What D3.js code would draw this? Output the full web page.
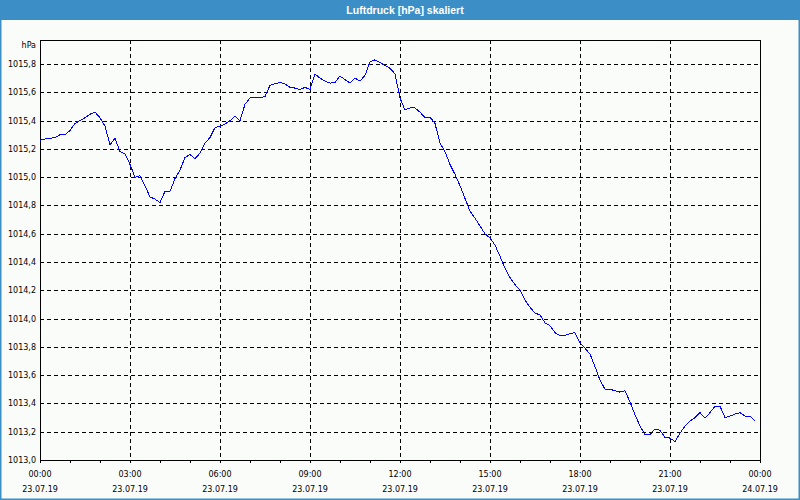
<!DOCTYPE html>
<html>
<head>
<meta charset="utf-8">
<script src="https://cdn.jsdelivr.net/npm/d3@7"></script>
<style>
  html, body { margin: 0; padding: 0; background: #fafcfa; }
  svg { display: block; }
</style>
</head>
<body>
<script>
// ---- data ----
const chartTitle = "Luftdruck [hPa] skaliert";
const unitLabel = "hPa";
const startTime = new Date(2019, 6, 23, 0, 0);
const stepMinutes = 10;
const pressure = [
  1015.26, 1015.27, 1015.275, 1015.28, 1015.30, 1015.30, 1015.33, 1015.38, 1015.40, 1015.42,
  1015.445, 1015.46, 1015.42, 1015.36, 1015.23, 1015.275, 1015.18, 1015.165, 1015.09, 1015.00,
  1015.01, 1014.94, 1014.86, 1014.845, 1014.82, 1014.90, 1014.90, 1014.99, 1015.05, 1015.14,
  1015.16, 1015.13, 1015.17, 1015.24, 1015.28, 1015.35, 1015.36, 1015.375, 1015.40, 1015.43,
  1015.40, 1015.515, 1015.56, 1015.565, 1015.56, 1015.57, 1015.65, 1015.66, 1015.67, 1015.66,
  1015.635, 1015.63, 1015.62, 1015.635, 1015.62, 1015.73, 1015.70, 1015.68, 1015.665, 1015.67,
  1015.715, 1015.69, 1015.665, 1015.70, 1015.68, 1015.72, 1015.815, 1015.83, 1015.81, 1015.79,
  1015.77, 1015.73, 1015.56, 1015.475, 1015.49, 1015.49, 1015.46, 1015.42, 1015.425, 1015.38,
  1015.24, 1015.18, 1015.09, 1015.02, 1014.94, 1014.85, 1014.76, 1014.71, 1014.655, 1014.60,
  1014.57, 1014.52, 1014.44, 1014.355, 1014.29, 1014.24, 1014.20, 1014.13, 1014.08, 1014.04,
  1014.025, 1013.97, 1013.95, 1013.90, 1013.88, 1013.88, 1013.895, 1013.90, 1013.83, 1013.79,
  1013.75, 1013.66, 1013.565, 1013.50, 1013.50, 1013.49, 1013.48, 1013.49, 1013.41, 1013.32,
  1013.24, 1013.18, 1013.18, 1013.22, 1013.21, 1013.16, 1013.155, 1013.13, 1013.19, 1013.24,
  1013.275, 1013.30, 1013.335, 1013.295, 1013.335, 1013.38, 1013.38, 1013.30, 1013.31, 1013.325,
  1013.335, 1013.31, 1013.31, 1013.275
];
const yTicks = [1013.0, 1013.2, 1013.4, 1013.6, 1013.8, 1014.0, 1014.2, 1014.4, 1014.6, 1014.8, 1015.0, 1015.2, 1015.4, 1015.6, 1015.8];
const yDomain = [1013.0, 1015.97];
const xDomain = [new Date(2019, 6, 23, 0, 0), new Date(2019, 6, 24, 0, 0)];

// ---- layout ----
const W = 800, H = 500;
const m = { left: 40, right: 40, top: 40, bottom: 40 };
const fontAxis = "'DejaVu Sans', Verdana, sans-serif";

const svg = d3.select("body").append("svg").attr("width", W).attr("height", H);

// background + border + title bar
svg.append("rect").attr("x", 0).attr("y", 0).attr("width", W).attr("height", H).attr("fill", "#fafcfa");
svg.append("rect").attr("x", 0).attr("y", 0).attr("width", W).attr("height", 20).attr("fill", "#3b8fc6");
svg.append("rect").attr("x", 0.75).attr("y", 0.75).attr("width", W - 1.5).attr("height", H - 1.5)
  .attr("fill", "none").attr("stroke", "#3b8fc6").attr("stroke-width", 1.5);
svg.append("text").attr("x", 405).attr("y", 14).attr("text-anchor", "middle")
  .attr("fill", "#ffffff").attr("font-family", "'Liberation Sans', Arial, sans-serif")
  .attr("font-weight", "bold").attr("font-size", "10.5px").text(chartTitle);

const x = d3.scaleTime().domain(xDomain).range([m.left, W - m.right]);
const y = d3.scaleLinear().domain(yDomain).range([H - m.bottom, m.top]);

const data = pressure.map((v, i) => ({ t: new Date(startTime.getTime() + i * stepMinutes * 60000), v }));

// grid lines
const grid = svg.append("g").attr("stroke", "#000").attr("stroke-dasharray", "4,3")
  .attr("shape-rendering", "crispEdges");
grid.selectAll(".hg").data(yTicks.filter(d => d > yDomain[0])).join("line")
  .attr("x1", m.left).attr("x2", W - m.right)
  .attr("y1", d => Math.round(y(d)) + 0.5).attr("y2", d => Math.round(y(d)) + 0.5);
const vTicks = d3.timeHour.every(3).range(xDomain[0], xDomain[1]).slice(1);
grid.selectAll(".vg").data(vTicks).join("line")
  .attr("y1", m.top).attr("y2", H - m.bottom)
  .attr("x1", d => Math.round(x(d)) + 0.5).attr("x2", d => Math.round(x(d)) + 0.5);

// frame
svg.append("rect").attr("x", m.left + 0.5).attr("y", m.top + 0.5)
  .attr("width", W - m.left - m.right).attr("height", H - m.top - m.bottom)
  .attr("fill", "none").attr("stroke", "#000").attr("shape-rendering", "crispEdges");

// x axis with hourly ticks
const xAxis = d3.axisBottom(x).ticks(d3.timeHour.every(1)).tickSize(3).tickFormat("");
const gx = svg.append("g").attr("transform", `translate(0,${H - m.bottom})`).call(xAxis);
gx.select(".domain").remove();
gx.selectAll("line").attr("stroke", "#000").attr("shape-rendering", "crispEdges");

const majorTicks = d3.timeHour.every(3).range(xDomain[0], d3.timeMinute.offset(xDomain[1], 1));
const fmtTime = d3.timeFormat("%H:%M");
const fmtDate = d3.timeFormat("%d.%m.%y");
const xl = svg.append("g").attr("font-family", fontAxis).attr("font-size", "8px").attr("fill", "#000")
  .attr("text-anchor", "middle");
xl.selectAll(".t1").data(majorTicks).join("text")
  .attr("x", d => x(d)).attr("y", 477).text(d => fmtTime(d));
xl.selectAll(".t2").data(majorTicks).join("text")
  .attr("x", d => x(d)).attr("y", 492).text(d => fmtDate(d));

// y labels
const fmtY = v => d3.format(".1f")(v).replace(".", ",");
const yl = svg.append("g").attr("font-family", fontAxis).attr("font-size", "8px").attr("fill", "#000")
  .attr("text-anchor", "end");
yl.selectAll("text").data(yTicks).join("text")
  .attr("x", 36).attr("y", d => y(d) + 3).text(d => fmtY(d));
yl.append("text").attr("x", 36).attr("y", 48).text(unitLabel);

// line
const line = d3.line().x(d => x(d.t)).y(d => y(d.v));
svg.append("path").datum(data).attr("d", line).attr("fill", "none")
  .attr("stroke", "#0000ff").attr("stroke-width", 1).attr("shape-rendering", "crispEdges");
</script>
</body>
</html>
